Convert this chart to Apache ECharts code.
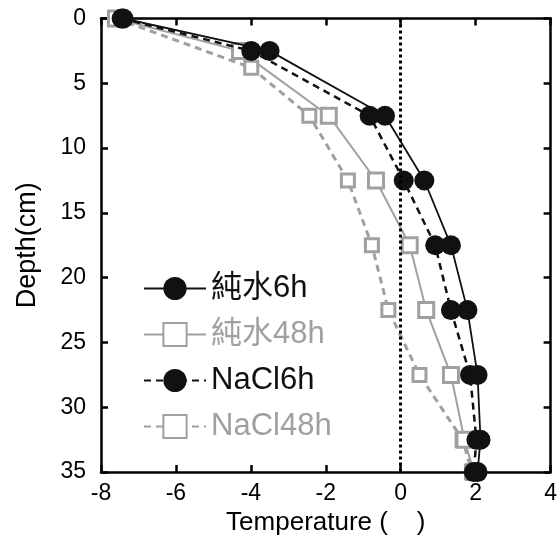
<!DOCTYPE html>
<html>
<head>
<meta charset="utf-8">
<script src="https://cdn.jsdelivr.net/npm/echarts@6/dist/echarts.min.js"></script>
<style>html,body{margin:0;padding:0;background:#fff}#c{width:560px;height:541px}</style>
</head>
<body>
<div id="c"></div>
<script>
const depthA = [0, 2.5, 7.5, 12.5, 17.5, 22.5, 27.5, 32.5, 35];
const depthB = [0, 3.8, 7.5, 12.5, 17.5, 22.5, 27.5, 32.5, 35];
const pure6h = [-7.4, -3.5, -0.42, 0.63, 1.34, 1.78, 2.05, 2.13, 2.05];
const pure48h = [-7.6, -4.29, -1.92, -0.66, 0.24, 0.68, 1.34, 1.7, 1.95];
const nacl6h = [-7.45, -3.99, -0.83, 0.08, 0.92, 1.34, 1.85, 2.02, 1.95];
const nacl48h = [-7.6, -3.99, -2.44, -1.41, -0.77, -0.33, 0.5, 1.65, 1.9];
const xTicks = [-8, 4, 2];
const yTicks = [0, 35, 5];
const names = ['純水6h', '純水48h', 'NaCl6h', 'NaCl48h'];

const BLACK = '#111';
const GRAY = '#a0a0a0';
const FONT = '"Liberation Sans", Arial, "Noto Sans CJK TC", sans-serif';

function pairs(xs, ys) { return xs.map((v, i) => [v, ys[i]]); }

const chart = echarts.init(document.getElementById('c'));
const axisLine = {show: true, onZero: false, lineStyle: {color: '#000', width: 2.5}};
const axisTick = {show: true, inside: true, length: 7, lineStyle: {color: '#000', width: 2.5}};
chart.setOption({
  animation: false,
  textStyle: {fontFamily: FONT},
  grid: {left: 101, right: 4, top: 18.5, bottom: 63, containLabel: false},
  xAxis: [{
    type: 'value', position: 'bottom', min: xTicks[0], max: xTicks[1], interval: xTicks[2],
    axisLine, axisTick, splitLine: {show: false},
    axisLabel: {color: '#000', fontSize: 23, margin: 10, fontFamily: FONT},
    name: 'Temperature (    )', nameLocation: 'middle', nameGap: 32,
    nameTextStyle: {color: '#000', fontSize: 26, fontFamily: FONT}
  }, {
    type: 'value', position: 'top', min: xTicks[0], max: xTicks[1], interval: xTicks[2],
    axisLine, axisTick, splitLine: {show: false}, axisLabel: {show: false}
  }],
  yAxis: [{
    type: 'value', inverse: true, position: 'left', min: yTicks[0], max: yTicks[1], interval: yTicks[2],
    axisLine, axisTick, splitLine: {show: false},
    axisLabel: {color: '#000', fontSize: 23, margin: 15, fontFamily: FONT},
    name: 'Depth(cm)', nameLocation: 'middle', nameGap: 60, nameRotate: 90,
    nameTextStyle: {color: '#000', fontSize: 27, fontFamily: FONT}
  }, {
    type: 'value', inverse: true, position: 'right', min: yTicks[0], max: yTicks[1], interval: yTicks[2],
    axisLine, axisTick, splitLine: {show: false}, axisLabel: {show: false}
  }],
  legend: {
    orient: 'vertical', left: 138, top: 268, padding: 5, itemWidth: 62, itemHeight: 29, itemGap: 15,
    textStyle: {fontSize: 31, fontFamily: FONT},
    data: [
      {name: names[0], textStyle: {color: BLACK}},
      {name: names[1], textStyle: {color: GRAY}},
      {name: names[2], textStyle: {color: BLACK}},
      {name: names[3], textStyle: {color: GRAY}}
    ]
  },
  series: [{
    name: names[3], type: 'line', data: pairs(nacl48h, depthB),
    symbol: 'rect', symbolSize: 13, z: 2,
    lineStyle: {color: GRAY, width: 3, type: [7, 5]},
    itemStyle: {color: '#fff', borderColor: GRAY, borderWidth: 3}
  }, {
    name: names[1], type: 'line', data: pairs(pure48h, depthA),
    symbol: 'rect', symbolSize: 15, z: 2,
    lineStyle: {color: GRAY, width: 2},
    itemStyle: {color: '#fff', borderColor: GRAY, borderWidth: 3}
  }, {
    name: names[2], type: 'line', data: pairs(nacl6h, depthA),
    symbol: 'circle', symbolSize: 20, z: 3,
    lineStyle: {color: BLACK, width: 2.5, type: [7, 5]},
    itemStyle: {color: BLACK, borderColor: BLACK, borderWidth: 0}
  }, {
    name: names[0], type: 'line', data: pairs(pure6h, depthA),
    symbol: 'circle', symbolSize: 20, z: 3,
    lineStyle: {color: BLACK, width: 1.8},
    itemStyle: {color: BLACK, borderColor: BLACK, borderWidth: 0},
    markLine: {
      silent: true, symbol: 'none', label: {show: false},
      lineStyle: {color: '#000', width: 3, type: [3, 3]},
      data: [{xAxis: 0}]
    }
  }]
});
</script>
</body>
</html>
